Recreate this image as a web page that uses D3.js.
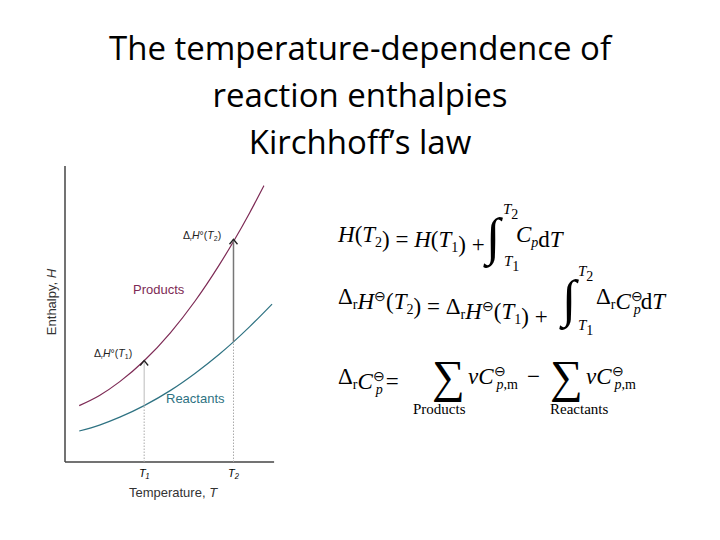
<!DOCTYPE html>
<html><head><meta charset="utf-8">
<script src="https://cdn.jsdelivr.net/npm/d3@7"></script>
<style>body{margin:0;background:#fff}</style></head>
<body><svg id="c" width="720" height="540"></svg>
<script>
const titleLines = ["The temperature-dependence of","reaction enthalpies","Kirchhoff’s law"];
const productsT = [7,17,27,39,52,64,76,83,91,98];
const productsH = [20,23.6,28.5,35.9,45.9,57,69.9,78.2,88.4,98];
const reactantsT = [7,17,27,39,52,64,76,83,91,102];
const reactantsH = [11,13.1,15.9,20,25.4,31.4,38.2,42.6,48,56];
const markT = [39,83];
const markLabels = ["T₁","T₂"];
const arrowFrom = [20,42.6];
const arrowTo = [36,79];

const svg = d3.select("#c");
const prod = "#7d2a55", reac = "#2e7282";
svg.selectAll("text.title").data(titleLines).join("text")
  .attr("x",360).attr("y",(d,i)=>60+i*47).attr("text-anchor","middle")
  .attr("font-family","Open Sans, sans-serif").attr("font-weight",500).attr("font-size",33).text(d=>d);

const x = d3.scaleLinear().domain([0,100]).range([65,268]);
const y = d3.scaleLinear().domain([0,100]).range([462,180]);
const g = svg.append("g");
g.append("line").attr("x1",65).attr("x2",65).attr("y1",y(105)).attr("y2",y(0)).attr("stroke","#444").attr("stroke-width",1.5);
g.append("line").attr("x1",65).attr("x2",x(103)).attr("y1",y(0)).attr("y2",y(0)).attr("stroke","#444").attr("stroke-width",1.5);
const line = d3.line().x(d=>x(d[0])).y(d=>y(d[1])).curve(d3.curveMonotoneX);
g.append("path").attr("d",line(productsT.map((t,i)=>[t,productsH[i]]))).attr("fill","none").attr("stroke",prod).attr("stroke-width",1.2);
g.append("path").attr("d",line(reactantsT.map((t,i)=>[t,reactantsH[i]]))).attr("fill","none").attr("stroke",reac).attr("stroke-width",1.2);
markT.forEach((t,i)=>{
  g.append("line").attr("x1",x(t)).attr("x2",x(t)).attr("y1",y(0)).attr("y2",y(arrowFrom[i])).attr("stroke","#aaa").attr("stroke-dasharray","1.5,1.5");
  g.append("line").attr("x1",x(t)).attr("x2",x(t)).attr("y1",y(arrowFrom[i])).attr("y2",y(arrowTo[i])).attr("stroke",i?"#777":"#bbb").attr("stroke-width",i?1.5:1);
  g.append("path").attr("d",`M${x(t)-4},${y(arrowTo[i])+5}L${x(t)},${y(arrowTo[i])}L${x(t)+4},${y(arrowTo[i])+5}`).attr("fill","none").attr("stroke","#222").attr("stroke-width",1.3);
  g.append("text").attr("x",x(t)).attr("y",477).attr("text-anchor","middle").attr("font-family","Liberation Sans").attr("font-style","italic").attr("font-size",11).text(markLabels[i]);
});
const sf = "Liberation Sans";
g.append("text").attr("x",173).attr("y",497).attr("text-anchor","middle").attr("font-family",sf).attr("font-size",13).attr("fill","#333").html("Temperature, <tspan font-style='italic'>T</tspan>");
g.append("text").attr("transform","translate(56,302) rotate(-90)").attr("text-anchor","middle").attr("font-family",sf).attr("font-size",13).attr("fill","#333").html("Enthalpy, <tspan font-style='italic'>H</tspan>");
g.append("text").attr("x",133).attr("y",294).attr("font-family",sf).attr("font-size",13).attr("fill",prod).text("Products");
g.append("text").attr("x",166).attr("y",403).attr("font-family",sf).attr("font-size",13).attr("fill",reac).text("Reactants");
g.append("text").attr("x",94).attr("y",357).attr("font-family",sf).attr("font-size",10.5).attr("fill","#222").html("Δ<tspan font-size='6' dy='2'>r</tspan><tspan dy='-2' font-style='italic'>H</tspan>°(<tspan font-style='italic'>T</tspan><tspan font-size='7' dy='2'>1</tspan><tspan dy='-2'>)</tspan>");
g.append("text").attr("x",183).attr("y",239).attr("font-family",sf).attr("font-size",10.5).attr("fill","#222").html("Δ<tspan font-size='6' dy='2'>r</tspan><tspan dy='-2' font-style='italic'>H</tspan>°(<tspan font-style='italic'>T</tspan><tspan font-size='7' dy='2'>2</tspan><tspan dy='-2'>)</tspan>");

const ef = "Liberation Serif";
function t(xp,yp,html,size){svg.append("text").attr("x",xp).attr("y",yp).attr("font-family",ef).attr("font-size",size||23).html(html);}
const sub=(s)=>`<tspan font-size='14' dy='5'>${s}</tspan><tspan dy='-5'></tspan>`;
const I=(s)=>`<tspan font-style='italic'>${s}</tspan>`;
t(338,242,`${I("H")}(${I("T")}${sub("2")}) = ${I("H")}(${I("T")}${sub("1")}) +`);
t(486,254,"∫",52); t(503,214,I("T")+sub("2"),15); t(504,266,I("T")+sub("1"),15);
t(516,242,`${I("C")}${sub(I("p"))}d${I("T")}`);
t(338,304,`Δ${sub("r")}${I("H")}<tspan font-size='14' dy='-8'>⊖</tspan><tspan dy='8'>(</tspan>${I("T")}${sub("2")}) = Δ${sub("r")}${I("H")}<tspan font-size='14' dy='-8'>⊖</tspan><tspan dy='8'>(</tspan>${I("T")}${sub("1")}) +`);
t(562,316,"∫",52); t(578,276,I("T")+sub("2"),15); t(578,330,I("T")+sub("1"),15);
t(596,304,`Δ${sub("r")}${I("C")}<tspan font-size='14' dy='-8'>⊖</tspan><tspan font-size='14' font-style='italic' dx='-9' dy='13'>p</tspan><tspan dy='-5'>d</tspan>${I("T")}`);
t(338,384,`Δ${sub("r")}${I("C")}<tspan font-size='14' dy='-8'>⊖</tspan><tspan font-size='14' font-style='italic' dx='-9' dy='13'>p</tspan><tspan dy='-5' dx='3'>=</tspan>`);
t(432,392,"∑",46); t(468,384,`${I("ν")}${I("C")}<tspan font-size='14' dy='-8'>⊖</tspan><tspan font-size='14' dx='-9' dy='13'>${I("p")},m</tspan>`);
t(527,384,"−");
t(550,392,"∑",46); t(586,384,`${I("ν")}${I("C")}<tspan font-size='14' dy='-8'>⊖</tspan><tspan font-size='14' dx='-9' dy='13'>${I("p")},m</tspan>`);
t(413,414,"Products",15); t(550,414,"Reactants",15);
</script></body></html>
